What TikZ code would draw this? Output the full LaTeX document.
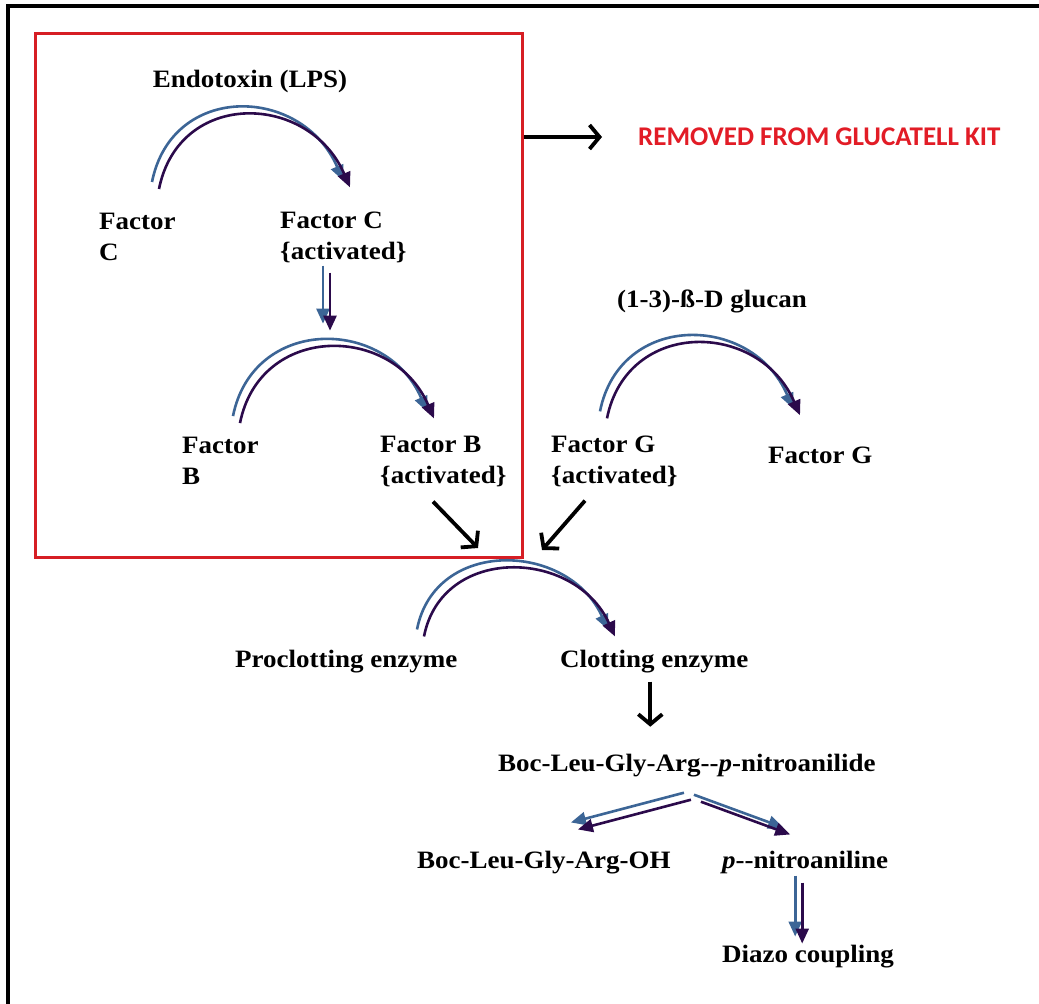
\documentclass[tikz,border=0pt]{standalone}
\usepackage{fontspec}
\setmainfont{Liberation Serif}[FakeStretch=1.08]
\newfontfamily\kitfont{Carlito}
\usepackage{tikz}
\usetikzlibrary{arrows.meta,positioning}
\definecolor{StepBlue}{RGB}{60,101,150}
\definecolor{StepPurple}{RGB}{43,10,75}
\definecolor{KitRed}{RGB}{214,30,36}
\definecolor{TextRed}{RGB}{226,28,38}
\tikzset{
	chem/.style={font=\bfseries\fontsize{25}{31}\selectfont, inner sep=0pt, align=left},
	blue path/.style={draw=StepBlue, line width=2.6pt, -{Triangle[length=15pt,width=13pt]}},
	purple path/.style={draw=StepPurple, line width=2.6pt, -{Triangle[length=15pt,width=13pt]}, transform canvas={shift={(7,7)}}},
	black arrow/.style={draw=black, line width=3.8pt, -{Straight Barb[length=10pt,width=24pt]}},
}
\newcommand{\twin}[1]{\draw[blue path] #1; \draw[purple path] #1;}

\begin{document}
\begin{tikzpicture}[x=1pt,y=-1pt]
\useasboundingbox (0,0) rectangle (1039,1004);
\fill[white] (0,0) rectangle (1039,1004);
\draw[line width=4pt] (1039,6) -- (8,6) -- (8,1004);

% the part taken out of the kit
\node[draw=KitRed, line width=3pt, minimum width=487pt, minimum height=524pt, inner sep=0pt] (kit) at (278.5,295) {};

\node[chem, anchor=base] (lps) at (250,87) {Endotoxin (LPS)};
\node[chem, anchor=west] (fc) at (99,237) {Factor\\C};
\node[chem, anchor=west] (fca) at (280,237) {Factor C\\\{activated\}};
\node[chem, anchor=west] (fb) at (182,461) {Factor\\B};
\node[chem, anchor=west] (fba) at (380,461) {Factor B\\\{activated\}};
\node[chem, anchor=base] (glucan) at (712,307) {(1-3)-ß-D glucan};
\node[chem, anchor=west] (fga) at (551,461) {Factor G\\\{activated\}};
\node[chem, anchor=base west] (fg) at (768,463) {Factor G};
\node[chem, anchor=base west] (proc) at (235,667) {Proclotting enzyme};
\node[chem, anchor=base west] (clot) at (560,667) {Clotting enzyme};
\node[chem, anchor=base west] (boc) at (498,771) {Boc-Leu-Gly-Arg-{}-\textit{p}-nitroanilide};
\node[chem, anchor=base west] (oh) at (417,868) {Boc-Leu-Gly-Arg-OH};
\node[chem, anchor=base west] (pna) at (722,868) {\textit{p}-{}-nitroaniline};
\node[chem, anchor=base west] (diazo) at (722,962) {Diazo coupling};
\node[font=\kitfont\bfseries\fontsize{27}{32}\selectfont, text=TextRed, inner sep=0pt, anchor=west] (removed) at (638,137) {REMOVED FROM GLUCATELL KIT};

% activation arcs
\twin{([shift={(53,-31)}]fc.north west) .. controls +(20,-100) and +(-41,-95) .. ([shift={(63,-31)}]fca.north west)}
\twin{([shift={(51,-21)}]fb.north west) .. controls +(20,-100) and +(-41,-95) .. ([shift={(47,-24)}]fba.north west)}
\twin{([shift={(49,-24)}]fga.north west) .. controls +(20,-100) and +(-41,-95) .. ([shift={(25,-38)}]fg.north west)}
\twin{([shift={(182,-20)}]proc.north west) .. controls +(18,-92) and +(-40,-88) .. ([shift={(48,-20)}]clot.north west)}

% straight steps
\twin{([shift={(43,3)}]fca.south west) -- ++(0,58)}
\twin{([shift={(-3,16)}]boc.south) -- ([shift={(27,-28)}]oh.north)}
\twin{([shift={(7,18)}]boc.south) -- ([shift={(-22,-23)}]pna.north)}
\twin{([shift={(-10,2)}]pna.south) -- ++(0,61)}

\coordinate (inB) at (478,548);
\coordinate (inG) at (542,550);
\draw[black arrow] ([shift={(53,15)}]fba.south west) -- (inB);
\draw[black arrow] ([shift={(34,14)}]fga.south west) -- (inG);
\draw[black arrow] ([shift={(-4,9)}]clot.south) -- ++(0,45);
\draw[black arrow] (kit.east |- removed.west) -- ([xshift=-36]removed.west);
\end{tikzpicture}
\end{document}
